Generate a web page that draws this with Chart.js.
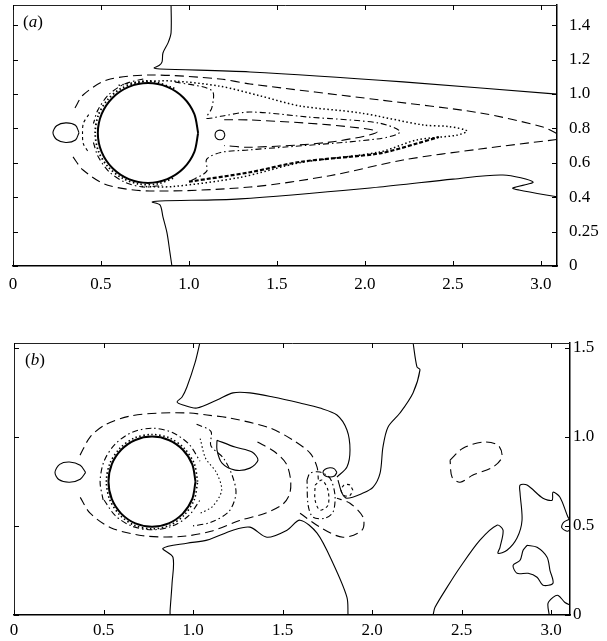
<!DOCTYPE html>
<html><head><meta charset="utf-8">
<script src="https://cdn.jsdelivr.net/npm/chart.js@4.4.1/dist/chart.umd.min.js"></script>
<style>
html,body{margin:0;padding:0;background:#fff;width:607px;height:641px;overflow:hidden;}
.wrap{position:absolute;left:0;}
.lbl{position:absolute;font-family:"Liberation Serif","DejaVu Serif",serif;font-size:17px;color:#000;line-height:1;}
</style></head><body>
<div class="wrap" style="top:0;width:607px;height:300px"><canvas id="ca" width="607" height="300"></canvas></div>
<div class="wrap" style="top:330px;width:607px;height:311px"><canvas id="cb" width="607" height="311"></canvas></div>
<div class="lbl" style="left:23px;top:13px">(<i>a</i>)</div>
<div class="lbl" style="left:25px;top:351px">(<i>b</i>)</div>
<script>
// ---------- tick values and labels ----------
const xTicks = [0, 0.5, 1.0, 1.5, 2.0, 2.5, 3.0];
const xLabels = ['0', '0.5', '1.0', '1.5', '2.0', '2.5', '3.0'];
const yTicksA = [0, 0.2, 0.4, 0.6, 0.8, 1.0, 1.2, 1.4];
const yLabelsA = ['0', '0.25', '0.4', '0.6', '0.8', '1.0', '1.2', '1.4'];
const yTicksB = [0, 0.5, 1.0, 1.5];
const yLabelsB = ['0', '0.5', '1.0', '1.5'];

// ---------- panel (a) contours [x, y] ----------
const aCircle = [[1.052,0.773],[1.030,0.884],[0.969,0.978],[0.876,1.041],[0.767,1.063],[0.658,1.041],[0.566,0.978],[0.504,0.884],[0.482,0.773],[0.504,0.662],[0.566,0.568],[0.658,0.505],[0.767,0.483],[0.876,0.505],[0.969,0.568],[1.030,0.662],[1.052,0.773]];
const aCircleFringe = [[0.917,1.033],[0.767,1.076],[0.617,1.033],[0.537,0.966],[0.485,0.878],[0.467,0.773],[0.485,0.668],[0.537,0.580],[0.617,0.513],[0.715,0.477],[0.819,0.477],[0.917,0.513]];
const aSolidUpper = [[0.898,1.53],[0.898,1.355],[0.881,1.297],[0.852,1.238],[0.847,1.186],[0.83,1.165],[0.801,1.151],[0.835,1.145],[1.347,1.128],[2.216,1.070],[3.10,0.998]];
const aSolidLower = [[0.903,0],[0.892,0.076],[0.875,0.192],[0.852,0.285],[0.835,0.355],[0.79,0.372],[0.835,0.378],[1.29,0.39],[2.085,0.459],[2.5,0.505],[2.784,0.529],[2.955,0.488],[2.84,0.453],[2.875,0.442],[3.10,0.40]];
const aLoopFront = [[0.375,0.775],[0.355,0.818],[0.30,0.832],[0.248,0.815],[0.227,0.775],[0.248,0.735],[0.30,0.718],[0.355,0.732],[0.375,0.775]];
const aLoopRear = [[1.204,0.762],[1.196,0.782],[1.176,0.79],[1.156,0.782],[1.148,0.762],[1.156,0.742],[1.176,0.734],[1.196,0.742],[1.204,0.762]];
const aDashUpper = [[0.352,0.919],[0.398,0.994],[0.534,1.081],[0.778,1.110],[1.176,1.087],[1.347,1.058],[2.085,0.965],[2.653,0.890],[3.011,0.808],[3.09,0.77]];
const aDashLower = [[0.341,0.634],[0.398,0.558],[0.534,0.471],[0.778,0.436],[1.347,0.459],[1.8,0.525],[2.216,0.616],[2.653,0.68],[3.09,0.735]];
const aWakeDotted = [[0.60,1.05],[0.72,1.07],[0.91,1.075],[1.176,1.045],[1.40,0.99],[1.631,0.93],[1.97,0.89],[2.33,0.82],[2.48,0.81],[2.58,0.785],[2.52,0.76],[2.295,0.733],[2.085,0.663],[1.63,0.60],[1.29,0.515],[0.909,0.462],[0.72,0.462]];
const aWakeBlot = [[1.0,0.49],[1.347,0.545],[1.63,0.605],[2.085,0.655],[2.295,0.712],[2.42,0.75]];
const aInnerDashDot = [[0.92,1.07],[1.13,1.02],[1.13,0.92],[1.10,0.86],[1.18,0.87],[1.347,0.895],[1.676,0.866],[2.085,0.83],[2.2,0.78],[2.085,0.74],[1.347,0.675],[1.18,0.66],[1.10,0.62],[1.10,0.55],[1.0,0.49]];
const aInnerDash = [[1.20,0.85],[1.347,0.849],[1.8,0.82],[2.07,0.78],[1.8,0.72],[1.347,0.69],[1.2,0.70]];
const aFrontRingUpper = [[0.740,1.087],[0.634,1.058],[0.544,0.996],[0.482,0.906],[0.457,0.828]];
const aFrontRingLower = [[0.457,0.718],[0.482,0.640],[0.544,0.550],[0.634,0.488],[0.740,0.459],[0.849,0.469]];
const aFrontArc = [[0.43,0.88],[0.40,0.83],[0.395,0.77],[0.40,0.71],[0.43,0.66]];

// ---------- panel (b) contours [x, y] ----------
const bCircle = [[1.014,0.748],[0.996,0.845],[0.943,0.927],[0.864,0.982],[0.771,1.001],[0.678,0.982],[0.599,0.927],[0.546,0.845],[0.528,0.748],[0.546,0.651],[0.599,0.569],[0.678,0.514],[0.771,0.495],[0.864,0.514],[0.943,0.569],[0.996,0.651],[1.014,0.748]];
const bCircleFringe = [[1.026,0.748],[1.007,0.849],[0.951,0.935],[0.869,0.993],[0.771,1.013],[0.673,0.993],[0.591,0.935],[0.535,0.849],[0.516,0.748],[0.535,0.647],[0.591,0.561],[0.673,0.503],[0.771,0.483],[0.869,0.503],[0.951,0.561],[1.007,0.647],[1.026,0.748]];
const bSolidTop = [[1.039,1.53],[1.011,1.414],[0.966,1.279],[0.939,1.223],[0.911,1.195],[0.944,1.178],[1.022,1.161],[1.134,1.206],[1.223,1.246],[1.318,1.246],[1.447,1.223],[1.598,1.189],[1.709,1.161],[1.804,1.122],[1.860,1.038],[1.877,0.925],[1.860,0.830],[1.804,0.774]];
const bSolidRight = [[2.229,1.53],[2.251,1.392],[2.268,1.375],[2.229,1.246],[2.156,1.133],[2.089,1.054],[2.061,0.942],[2.045,0.796],[2.006,0.717],[1.950,0.684],[1.860,0.655],[1.832,0.684],[1.810,0.757]];
const bLoopSmall = [[1.804,0.80],[1.79,0.82],[1.765,0.826],[1.738,0.818],[1.726,0.80],[1.74,0.78],[1.765,0.774],[1.79,0.78],[1.804,0.80]];
const bSolidBottom = [[0.872,0.0],[0.872,0.026],[0.883,0.178],[0.888,0.324],[0.832,0.374],[0.966,0.403],[1.078,0.420],[1.223,0.476],[1.318,0.493],[1.413,0.436],[1.525,0.476],[1.598,0.532],[1.693,0.459],[1.782,0.290],[1.860,0.099],[1.866,0.0]];
const bSolidBR = [[2.341,0.0],[2.352,0.043],[2.419,0.155],[2.492,0.268],[2.603,0.420],[2.698,0.504],[2.732,0.476],[2.715,0.380],[2.704,0.346],[2.754,0.363],[2.810,0.432],[2.838,0.532],[2.827,0.684],[2.827,0.729],[2.866,0.729],[2.955,0.655],[3.006,0.644],[3.011,0.689],[3.050,0.661],[3.095,0.549],[3.11,0.532]];
const bIsland = [[2.866,0.391],[2.922,0.380],[2.978,0.324],[2.994,0.251],[3.011,0.178],[2.955,0.167],[2.922,0.212],[2.872,0.234],[2.810,0.234],[2.788,0.279],[2.827,0.307],[2.844,0.363],[2.866,0.391]];
const bCorner = [[2.99,0.0],[2.983,0.065],[3.011,0.099],[3.040,0.110],[3.078,0.070],[3.11,0.055]];
const bEdgeLoop = [[3.11,0.54],[3.07,0.52],[3.06,0.49],[3.09,0.47],[3.11,0.48]];
const bLoopFront = [[0.40,0.80],[0.37,0.84],[0.31,0.858],[0.255,0.845],[0.229,0.80],[0.25,0.76],[0.31,0.745],[0.37,0.762],[0.40,0.80]];
const bLoopRear = [[1.134,0.981],[1.235,0.942],[1.330,0.914],[1.363,0.869],[1.318,0.824],[1.235,0.813],[1.162,0.852],[1.134,0.925],[1.134,0.981]];
const bDashOval = [[2.436,0.869],[2.508,0.936],[2.620,0.970],[2.704,0.953],[2.726,0.886],[2.676,0.830],[2.564,0.785],[2.492,0.745],[2.447,0.774],[2.436,0.869]];
const bDashOuter = [[0.369,0.897],[0.425,0.998],[0.508,1.066],[0.648,1.116],[0.816,1.133],[0.983,1.133],[1.078,1.122],[1.207,1.105],[1.430,1.049],[1.559,0.981],[1.654,0.908],[1.693,0.830],[1.70,0.76]];
const bDashInner = [[1.36,0.97],[1.45,0.92],[1.52,0.85],[1.545,0.76],[1.54,0.68],[1.50,0.62],[1.40,0.57],[1.26,0.53],[1.10,0.47],[0.93,0.44],[0.72,0.445],[0.54,0.49],[0.425,0.571],[0.37,0.66]];
const bDashLobe = [[1.598,0.571],[1.709,0.493],[1.838,0.436],[1.944,0.476],[1.950,0.549],[1.877,0.627],[1.804,0.655]];
const bDashDotLoop = [[1.637,0.757],[1.654,0.796],[1.709,0.802],[1.765,0.768],[1.793,0.673],[1.782,0.577],[1.737,0.543],[1.670,0.549],[1.643,0.616],[1.637,0.757]];
const bShortDashLoop = [[1.682,0.729],[1.720,0.757],[1.754,0.700],[1.754,0.616],[1.709,0.588],[1.682,0.644],[1.682,0.729]];
const bDotCircle = [[1.893,0.70],[1.877,0.729],[1.86,0.733],[1.843,0.729],[1.827,0.70],[1.843,0.671],[1.86,0.667],[1.877,0.671],[1.893,0.70]];
const bRingUpper = [[0.498,0.645],[0.481,0.748],[0.503,0.863],[0.566,0.960],[0.660,1.025],[0.771,1.048],[0.882,1.025],[0.976,0.960],[1.039,0.863]];
const bRingLower = [[0.503,0.645],[0.566,0.557],[0.660,0.498],[0.771,0.478],[0.882,0.498],[0.976,0.557],[1.039,0.645]];
const bWakeDashDot = [[1.02,1.07],[1.10,1.03],[1.10,0.95],[1.17,0.88],[1.22,0.78],[1.24,0.68],[1.20,0.58],[1.10,0.52],[1.0,0.50]];
const bWakeDotted = [[1.04,0.99],[1.07,0.88],[1.13,0.80],[1.16,0.70],[1.11,0.61],[1.04,0.57]];

// ---------- styles ----------
const SOLID = [], LONG = [9, 5], DASHDOT = [6, 3, 1.5, 3], SHORT = [3, 3], DOT = [1.5, 2.5];

function line(arr, dash, w) {
  return {
    data: arr.map(p => ({ x: p[0], y: p[1] })),
    showLine: true, borderColor: '#000', borderWidth: w || 1.1, borderDash: dash,
    pointRadius: 0, pointHoverRadius: 0, tension: 0.3, fill: false
  };
}

const setsA = [
  line(aCircle, SOLID, 2), line(aCircleFringe, DOT, 1.8),
  line(aSolidUpper, SOLID), line(aSolidLower, SOLID),
  line(aLoopFront, SOLID), line(aLoopRear, SOLID),
  line(aDashUpper, LONG), line(aDashLower, LONG),
  line(aWakeDotted, DOT, 1.5), line(aWakeBlot, [4, 2], 2.2),
  line(aInnerDashDot, DASHDOT), line(aInnerDash, LONG),
  line(aFrontRingUpper, DASHDOT), line(aFrontRingLower, DASHDOT), line(aFrontArc, SHORT)
];
const setsB = [
  line(bCircle, SOLID, 2), line(bCircleFringe, DOT, 1.6),
  line(bSolidTop, SOLID), line(bSolidRight, SOLID), line(bLoopSmall, SOLID),
  line(bSolidBottom, SOLID), line(bSolidBR, SOLID), line(bIsland, SOLID),
  line(bCorner, SOLID), line(bEdgeLoop, SOLID),
  line(bLoopFront, SOLID), line(bLoopRear, SOLID),
  line(bDashOval, LONG), line(bDashOuter, LONG), line(bDashInner, LONG), line(bDashLobe, LONG),
  line(bDashDotLoop, DASHDOT), line(bShortDashLoop, SHORT), line(bDotCircle, SHORT),
  line(bRingUpper, DASHDOT), line(bRingLower, DASHDOT),
  line(bWakeDashDot, DASHDOT), line(bWakeDotted, DOT)
];

const frame = {
  id: 'frame',
  afterDraw(chart) {
    const { ctx, chartArea: a, scales: { x, y } } = chart;
    ctx.save();
    ctx.strokeStyle = '#222'; ctx.lineWidth = 1;
    ctx.beginPath();
    ctx.moveTo(a.left + 0.5, a.bottom); ctx.lineTo(a.left + 0.5, a.top + 0.5); ctx.lineTo(a.right, a.top + 0.5);
    ctx.stroke();
    ctx.strokeStyle = '#000';
    ctx.beginPath();
    x.ticks.forEach(t => {
      const p = Math.round(x.getPixelForValue(t.value)) + 0.5;
      ctx.moveTo(p, a.bottom); ctx.lineTo(p, a.bottom - 5);
      ctx.moveTo(p, a.top); ctx.lineTo(p, a.top + 5);
    });
    y.ticks.forEach(t => {
      const p = Math.round(y.getPixelForValue(t.value)) + 0.5;
      ctx.moveTo(a.left, p); ctx.lineTo(a.left + 5, p);
      ctx.moveTo(a.right, p); ctx.lineTo(a.right - 5, p);
    });
    ctx.stroke();
    ctx.restore();
  }
};

const tickFont = { family: "'Liberation Serif', 'DejaVu Serif', serif", size: 17 };

function makeChart(id, sets, c) {
  return new Chart(document.getElementById(id), {
    type: 'scatter',
    data: { datasets: sets },
    options: {
      responsive: false, animation: false, devicePixelRatio: 1,
      layout: { padding: { left: c.padLeft, top: c.padTop, right: 0, bottom: 0 } },
      plugins: { legend: { display: false }, tooltip: { enabled: false } },
      scales: {
        x: {
          type: 'linear', position: 'bottom', min: 0, max: c.xMax,
          afterBuildTicks: s => { s.ticks = c.xT.map(v => ({ value: v })); },
          afterFit: s => { s.height = c.xH; s.paddingLeft = 0; s.paddingRight = 0; },
          ticks: { callback: (v, i) => c.xL[i], font: tickFont, color: '#000', padding: c.xPad, maxRotation: 0, autoSkip: false },
          grid: { display: false, drawTicks: false },
          border: { display: true, color: '#000', width: 1.5 }
        },
        y: {
          type: 'linear', position: 'right', min: 0, max: c.yMax,
          afterBuildTicks: s => { s.ticks = c.yT.map(v => ({ value: v })); },
          afterFit: s => { s.width = c.yW; s.paddingTop = 0; s.paddingBottom = 0; },
          ticks: { callback: (v, i) => c.yL[i], font: tickFont, color: '#000', padding: c.yPad, autoSkip: false },
          grid: { display: false, drawTicks: false },
          border: { display: true, color: '#000', width: 1.5 }
        }
      }
    },
    plugins: [frame]
  });
}

makeChart('ca', setsA, { padLeft: 13, padTop: 5, xMax: 3.091, yMax: 1.517, xT: xTicks, xL: xLabels, yT: yTicksA, yL: yLabelsA, xH: 34, yW: 50, xPad: 8, yPad: 12 });
makeChart('cb', setsB, { padLeft: 14, padTop: 13, xMax: 3.106, yMax: 1.526, xT: xTicks, xL: xLabels, yT: yTicksB, yL: yLabelsB, xH: 26, yW: 37, xPad: 5, yPad: 3 });
</script>
</body></html>
